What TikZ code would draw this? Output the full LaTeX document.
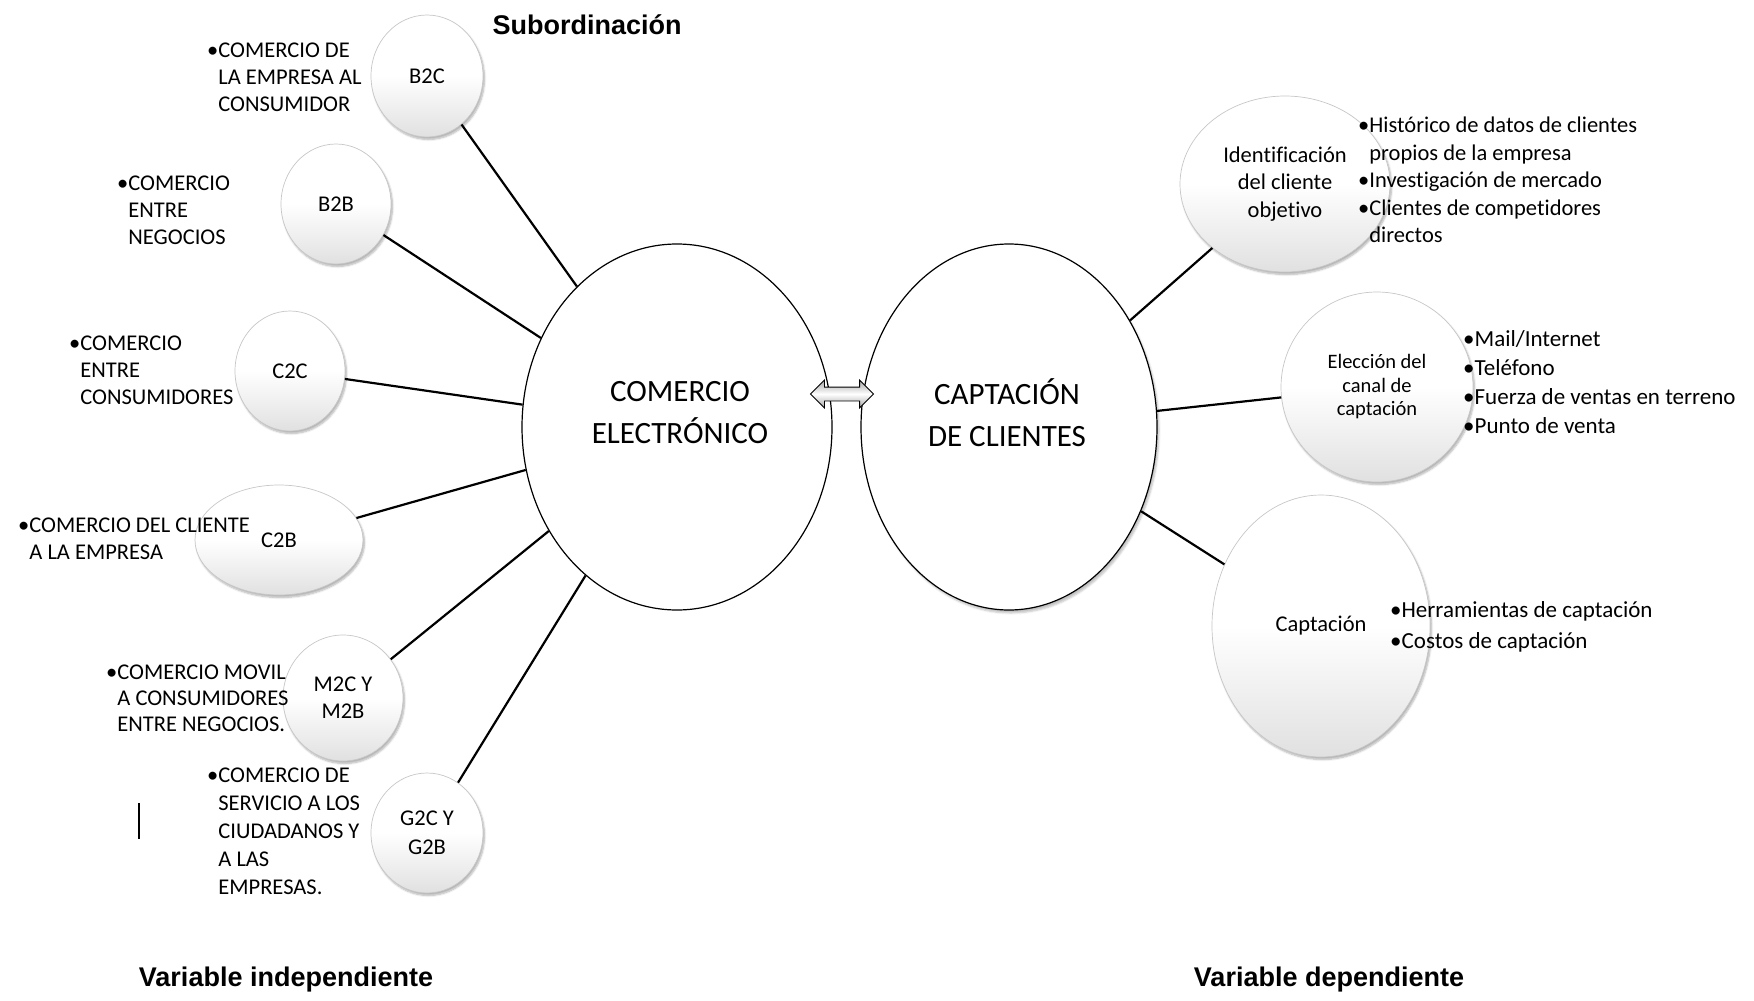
\documentclass[tikz,border=0pt]{standalone}
\usepackage{fontspec}
\setmainfont{Carlito}[Ligatures=NoCommon]
\newfontfamily\headfont{Liberation Sans}
\usetikzlibrary{shapes.geometric,shapes.arrows,shadows.blur}
\newcommand{\bulsp}{\hphantom{•}}

\begin{document}
\begin{tikzpicture}[x=1pt,y=-1pt,
	sub/.style={ellipse,inner sep=0pt,draw=black!22,line width=0.7pt,top color=white,bottom color=black!12,middle color=white,
		blur shadow={shadow xshift=1.5pt,shadow yshift=-2.5pt,shadow blur steps=6,shadow opacity=30},
		font=\fontsize{22.5}{27}\selectfont,align=center},
	big/.style={ellipse,draw,line width=1.2pt,fill=white},
	note/.style={anchor=west,inner sep=0pt,align=left},
	conn/.style={line width=2.2pt},
	head/.style={font=\headfont\bfseries\fontsize{27}{32}\selectfont}]
	\useasboundingbox (0,0) rectangle (1754,1001);

	% centro
	\node[big,minimum width=310,minimum height=366] (ce) at (677,427) {};
	\node[big,minimum width=296,minimum height=366,blur shadow={shadow xshift=2pt,shadow yshift=-3pt,shadow opacity=25}] (cc) at (1009,427) {};
	\node[font=\fontsize{31}{42}\selectfont,align=center] (cetxt) at (680,413) {COMERCIO\\ELECTRÓNICO};
	\node[font=\fontsize{31}{42}\selectfont,align=center] (cctxt) at (1007,413) {CAPTACIÓN\\DE CLIENTES};
	\node[double arrow,draw,line width=0.8pt,inner sep=6.5pt,minimum height=63,double arrow head extend=7,
		top color=black!35,bottom color=black!35,middle color=white] (link) at (842,394) {};

	% variable independiente
	\node[sub,minimum width=112,minimum height=122] (b2c) at (427,76) {B2C};
	\node[sub,minimum width=110,minimum height=120] (b2b) at (336,204) {B2B};
	\node[sub,minimum width=110,minimum height=120] (c2c) at (290,371) {C2C};
	\node[sub,minimum width=168,minimum height=110] (c2b) at (279,540) {C2B};
	\node[sub,minimum width=120,minimum height=126] (m2c) at (343,698) {M2C Y\\M2B};
	\node[sub,minimum width=112,minimum height=120,font=\fontsize{22.5}{29}\selectfont] (g2c) at (427,833) {G2C Y\\G2B};

	\draw[conn] (b2c) -- (ce);
	\draw[conn] (b2b) -- (ce);
	\draw[conn] (c2c) -- (ce);
	\draw[conn] (c2b) -- (ce);
	\draw[conn] (m2c) -- (ce);
	\draw[conn] (g2c) -- (ce);

	\node[note,font=\fontsize{22.5}{27}\selectfont] (b2ctxt) at (207,77) {•COMERCIO DE\\\bulsp LA EMPRESA AL\\\bulsp CONSUMIDOR};
	\node[note,font=\fontsize{22.5}{27}\selectfont] (b2btxt) at (117,210) {•COMERCIO\\\bulsp ENTRE\\\bulsp NEGOCIOS};
	\node[note,font=\fontsize{22.5}{27}\selectfont] (c2ctxt) at (69,370) {•COMERCIO\\\bulsp ENTRE\\\bulsp CONSUMIDORES};
	\node[note,font=\fontsize{22.5}{27}\selectfont] (c2btxt) at (18,539) {•COMERCIO DEL CLIENTE\\\bulsp A LA EMPRESA};
	\node[note,font=\fontsize{22.5}{26}\selectfont] (m2ctxt) at (106,698) {•COMERCIO MOVIL\\\bulsp A CONSUMIDORES\\\bulsp ENTRE NEGOCIOS.};
	\node[note,font=\fontsize{22.5}{28}\selectfont] (g2ctxt) at (207,831) {•COMERCIO DE\\\bulsp SERVICIO A LOS\\\bulsp CIUDADANOS Y\\\bulsp A LAS\\\bulsp EMPRESAS.};
	\draw[line width=1.2pt] (139,803) -- (139,839);

	% variable dependiente
	\node[sub,minimum width=210,minimum height=176,font=\fontsize{22.5}{27.5}\selectfont] (ident) at (1285,184) {Identificación\\del cliente\\objetivo};
	\node[sub,minimum width=192,minimum height=190,font=\fontsize{20.5}{23.5}\selectfont] (elec) at (1377,387) {Elección del\\canal de\\captación};
	\node[sub,minimum width=218,minimum height=262] (capt) at (1321,626) {Captación};

	\draw[conn] (ident) -- (cc);
	\draw[conn] (elec) -- (cc);
	\draw[conn] (capt) -- (cc);

	\node[note,font=\fontsize{22.5}{27.5}\selectfont] (identtxt) at (1358,180) {•Histórico de datos de clientes\\\bulsp propios de la empresa\\•Investigación de mercado\\•Clientes de competidores\\\bulsp directos};
	\node[note,font=\fontsize{23}{29}\selectfont] (electxt) at (1463,382) {•Mail/Internet\\•Teléfono\\•Fuerza de ventas en terreno\\•Punto de venta};
	\node[note,font=\fontsize{23}{31}\selectfont] (capttxt) at (1390,627) {•Herramientas de captación\\•Costos de captación};

	% titulos
	\node[head] (subord) at (587,25) {Subordinación};
	\node[head] (vind) at (286,980) {Variable independiente};
	\node[head] (vdep) at (1329,980) {Variable dependiente};
\end{tikzpicture}
\end{document}
